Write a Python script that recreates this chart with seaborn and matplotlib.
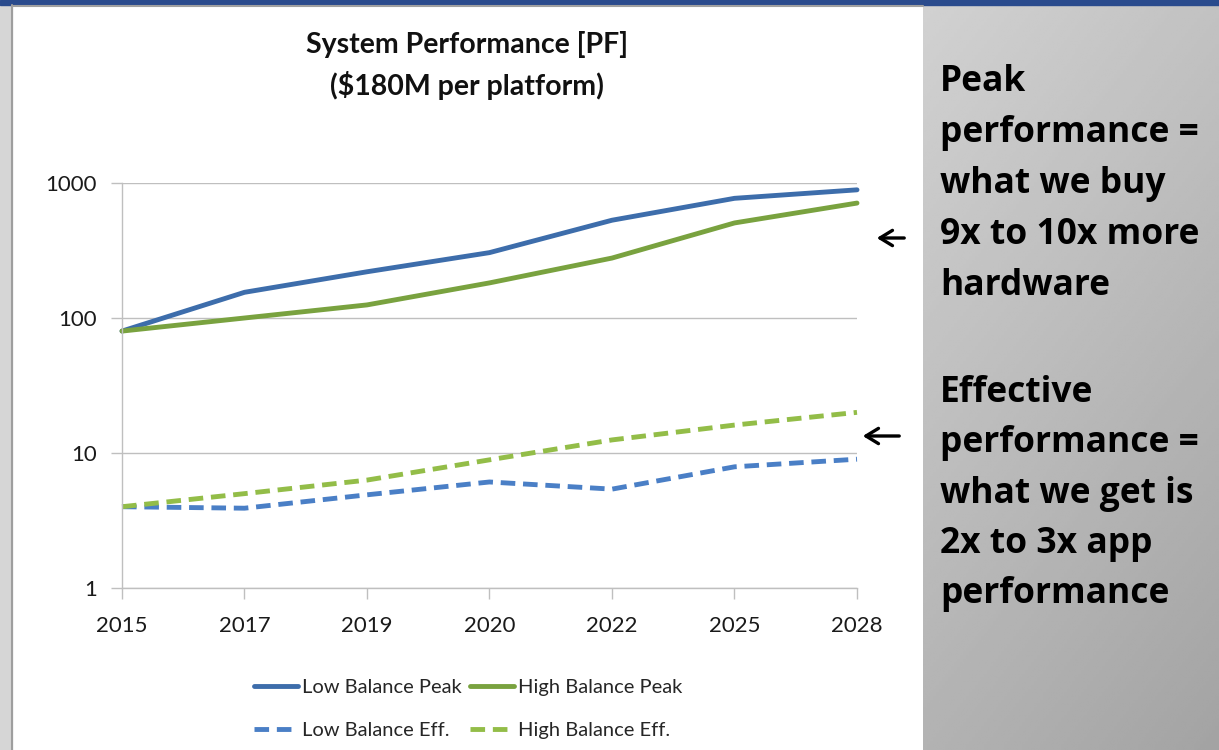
import numpy as np
import pandas as pd
import matplotlib.pyplot as plt
import seaborn as sns
from matplotlib.patches import Rectangle
from matplotlib.ticker import NullLocator

# values (PF, log scale)
years = ['2015', '2017', '2019', '2020', '2022', '2025', '2028']
low_peak = [80, 155, 220, 305, 530, 770, 890]
high_peak = [80, 100, 125, 182, 278, 506, 710]
low_eff = [4.0, 3.9, 4.9, 6.1, 5.4, 7.9, 9.0]
high_eff = [4.0, 5.0, 6.3, 8.9, 12.5, 16.1, 20.0]

series_names = ['Low Balance Peak', 'High Balance Peak', 'Low Balance Eff.', 'High Balance Eff.']
colors = ['#3D6DAB', '#79A23F', '#4A7FC6', '#93BD48']

peak_text = ['Peak', 'performance =', 'what we buy', '9x to 10x more', 'hardware']
eff_text = ['Effective', 'performance =', 'what we get is', '2x to 3x app', 'performance']

df = pd.DataFrame({
    'pos': list(range(len(years))) * 4,
    'value': low_peak + high_peak + low_eff + high_eff,
    'series': np.repeat(series_names, len(years)),
})

sns.set_style('white')
plt.rcParams['font.family'] = ['Lato', 'DejaVu Sans']

W, H = 1219, 750
fig = plt.figure(figsize=(W / 100, H / 100), dpi=100)
fig.patch.set_facecolor('white')

# background: slide decoration
bg = fig.add_axes([0, 0, 1, 1], zorder=-10)
bg.set_xlim(0, W)
bg.set_ylim(H, 0)
bg.axis('off')
yy, xx = np.mgrid[0:1:200j, 0:1:100j]
grad = 0.82 - 0.06 * xx - 0.12 * yy
bg.imshow(grad, cmap='gray', vmin=0, vmax=1, extent=(923, W, H, 5),
          aspect='auto', interpolation='bilinear')
bg.add_patch(Rectangle((0, 5), 12, H, color='#D6D6D6'))
bg.plot([12, 12], [5, H], color='#9E9E9E', lw=1.5)
bg.plot([12, 923], [5.5, 5.5], color='#A0A0A0', lw=1.5)
bg.add_patch(Rectangle((0, 0), W, 5, color='#2A4B8D'))

# title
bg.text(467, 45, 'System Performance [PF]', ha='center', va='center',
        fontsize=20.5, fontweight='bold', color='#111111')
bg.text(467, 85, '(\\$180M per platform)', ha='center', va='center',
        fontsize=20.5, fontweight='bold', color='#111111')

# right side notes
for i, line in enumerate(peak_text):
    bg.text(940, 91 + 51 * i, line, ha='left', va='baseline', family='Open Sans',
            fontsize=25.5, fontweight='bold', color='black')
for i, line in enumerate(eff_text):
    bg.text(940, 402 + 50.3 * i, line, ha='left', va='baseline', family='Open Sans',
            fontsize=25.5, fontweight='bold', color='black')

arrow = dict(arrowstyle='->, head_length=0.9, head_width=0.55', lw=2.4, color='black')
bg.annotate('', xy=(874, 238), xytext=(907, 238), arrowprops=arrow)
bg.annotate('', xy=(860, 436), xytext=(902, 436), arrowprops=arrow)

# chart
ax = fig.add_axes([122 / W, 1 - 588 / H, 735 / W, 405 / H])
ax.set_facecolor('white')
sns.lineplot(data=df, x='pos', y='value', hue='series', style='series',
             hue_order=series_names, style_order=series_names,
             palette=dict(zip(series_names, colors)),
             dashes={'Low Balance Peak': '', 'High Balance Peak': '',
                     'Low Balance Eff.': (3, 1.6), 'High Balance Eff.': (3, 1.6)},
             linewidth=3.5, ax=ax, legend=False)
for ln in ax.get_lines():
    ln.set_clip_on(False)

ax.set_yscale('log')
ax.set_ylim(1, 1000)
ax.set_yticks([1, 10, 100, 1000])
ax.set_yticklabels(['1', '10', '100', '1000'])
ax.yaxis.set_minor_locator(NullLocator())
ax.set_xlim(0, len(years) - 1)
ax.set_xticks(range(len(years)))
ax.set_xticklabels(years)
ax.set_xlabel('')
ax.set_ylabel('')
ax.yaxis.grid(True, color='#BFBFBF', lw=1)
ax.set_axisbelow(True)
for s in ['top', 'right']:
    ax.spines[s].set_visible(False)
for s in ['left', 'bottom']:
    ax.spines[s].set_color('#BFBFBF')
    ax.spines[s].set_linewidth(1)
ax.tick_params(bottom=True, left=True, direction='out', length=8, width=1,
               color='#BFBFBF', labelsize=16, labelcolor='#1a1a1a')
ax.tick_params(axis='x', pad=12)
ax.tick_params(axis='y', pad=10)

lines = ax.get_lines()[:4]
fig.legend(handles=[lines[0], lines[2], lines[1], lines[3]],
           labels=[series_names[0], series_names[2], series_names[1], series_names[3]],
           ncol=2, loc='center', bbox_to_anchor=(468 / W, 1 - 709 / H),
           frameon=False, fontsize=14.5, handlelength=2.2, handletextpad=0.2,
           columnspacing=0.4, labelspacing=1.25)

fig.savefig('out.png', dpi=100)
